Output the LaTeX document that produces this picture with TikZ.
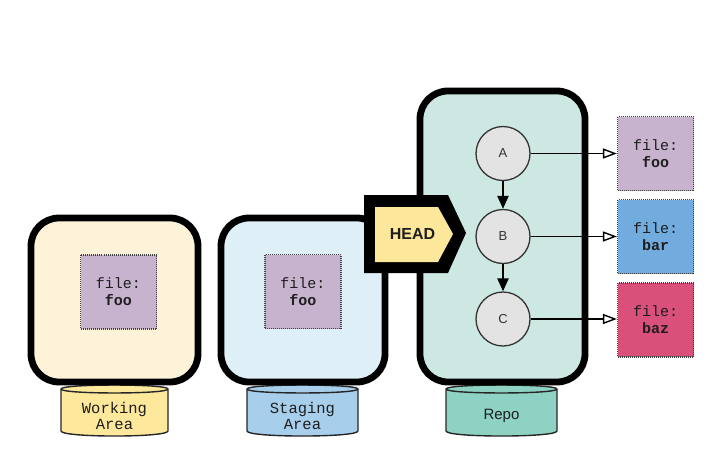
\documentclass[tikz,border=0pt]{standalone}
\usepackage{fontspec}
\newfontfamily\monof{Liberation Mono}
\newfontfamily\sansf{Liberation Sans}
\usetikzlibrary{arrows.meta}

\definecolor{workfill}{HTML}{FEF3D9}
\definecolor{workcyl}{HTML}{FEE89B}
\definecolor{stagefill}{HTML}{DEEFF8}
\definecolor{stagecyl}{HTML}{A7CFEC}
\definecolor{repofill}{HTML}{CDE8E2}
\definecolor{repocyl}{HTML}{8DD2C3}
\definecolor{filepurple}{HTML}{C8B3CF}
\definecolor{fileblue}{HTML}{72ABDD}
\definecolor{filered}{HTML}{D9507A}
\definecolor{commitgray}{HTML}{E3E3E3}
\definecolor{headyellow}{HTML}{FDE79B}
\definecolor{ink}{HTML}{1E1E1E}

\begin{document}
\begin{tikzpicture}[x=1pt,y=-1pt,
  area/.style={draw=black, line width=6.8pt, rounded corners=28pt, inner sep=0pt},
  cylline/.style={draw=black!85, line width=1.4pt},
  cyllabel/.style={align=center, text=ink, inner sep=0pt},
  filebox/.style={draw=black!75, line width=1.2pt, dash pattern=on 1pt off 1pt,
    minimum width=76pt, minimum height=74pt, inner sep=0pt, align=center,
    text=ink, font=\monof\fontsize{15}{17}\selectfont},
  commit/.style={circle, draw=black!80, line width=1.3pt, fill=commitgray,
    minimum size=54pt, inner sep=0pt, text=black!80,
    font=\sansf\fontsize{13}{13}\selectfont},
  parent/.style={line width=2.2pt, -{Triangle[length=13pt,width=11pt]}},
  points/.style={line width=1.4pt, -{Triangle[open,length=14pt,width=10pt]}}
]
\useasboundingbox (0,0) rectangle (724,461);

% cylinders under the area boxes
\foreach \xa/\xb/\col in {61/168/workcyl, 247/358/stagecyl, 446/557/repocyl}{
  \path[cylline, fill=\col]
    (\xa,389) -- (\xa,431)
    .. controls (\xa,437.7) and (\xb,437.7) .. (\xb,431)
    -- (\xb,389)
    .. controls (\xb,383.7) and (\xa,383.7) .. (\xa,389) -- cycle;
  \draw[cylline] (\xa,389) .. controls (\xa,394.3) and (\xb,394.3) .. (\xb,389);
}
\node[cyllabel, font=\monof\fontsize{15.5}{16}\selectfont] (worklbl) at (114.5,416) {Working\\Area};
\node[cyllabel, font=\monof\fontsize{15.5}{16}\selectfont] (stagelbl) at (302.5,416) {Staging\\Area};
\node[cyllabel, font=\sansf\fontsize{15}{16}\selectfont] (repolbl) at (501.5,416) {Repo};

% the three areas
\node[area, fill=workfill, minimum width=167pt, minimum height=164pt] (work) at (114.5,300) {};
\node[area, fill=stagefill, minimum width=164pt, minimum height=164pt] (stage) at (303,300) {};
\node[area, fill=repofill, minimum width=165pt, minimum height=291pt] (repo) at (502.5,236.5) {};

% file snapshots
\node[filebox, fill=filepurple] (workfile) at (118.5,292) {file:\\\textbf{foo}};
\node[filebox, fill=filepurple] (stagefile) at (303,291.5) {file:\\\textbf{foo}};
\node[filebox, fill=filepurple] (foo) at (655.5,153.5) {file:\\\textbf{foo}};
\node[filebox, fill=fileblue] (bar) at (655.5,236.5) {file:\\\textbf{bar}};
\node[filebox, fill=filered] (baz) at (655.5,320) {file:\\\textbf{baz}};

% commits
\node[commit] (A) at (503,153.5) {A};
\node[commit] (B) at (503,236.5) {B};
\node[commit] (C) at (503,319) {C};
\draw[parent] (A) -- (B);
\draw[parent] (B) -- (C);
\draw[points] (A.east) -- (A.east -| foo.west);
\draw[points] (B.east) -- (B.east -| bar.west);
\draw[points] (C.east) -- (C.east -| baz.west);

% HEAD pointer
\fill[black] (364,195) -- (448,195) -- (466,233) -- (448,273) -- (364,273) -- cycle;
\fill[headyellow] (375,207) -- (438,207) -- (453,234) -- (438,262) -- (375,262) -- cycle;
\node[font=\sansf\bfseries\fontsize{16}{16}\selectfont, text=ink] (head) at (412.5,233.5) {HEAD};
\end{tikzpicture}
\end{document}
